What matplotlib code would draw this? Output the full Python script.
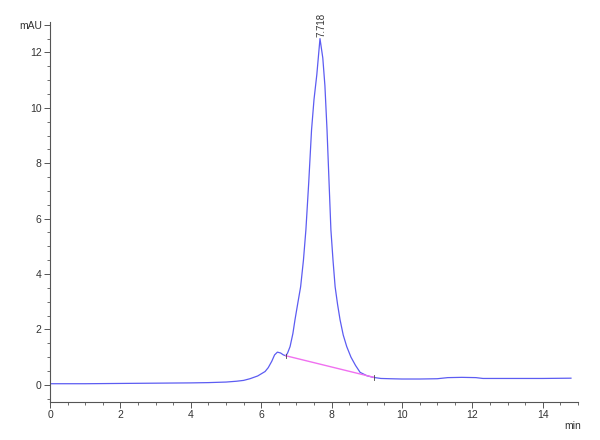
import matplotlib
matplotlib.use("Agg")
import matplotlib.pyplot as plt
from matplotlib.ticker import MultipleLocator

plt.rcParams['font.family'] = ['Liberation Sans', 'DejaVu Sans']

# Chromatogram trace (time in min, absorbance in mAU)
time_min = [0.0, 1.0, 2.0, 3.0, 4.0, 4.5, 5.0, 5.3, 5.5, 5.68, 5.9, 6.11, 6.2, 6.3,
            6.38, 6.46, 6.55, 6.63, 6.70, 6.75, 6.82, 6.9, 6.96, 7.04, 7.12, 7.2,
            7.27, 7.35, 7.43, 7.5, 7.58, 7.67, 7.75, 7.81, 7.87, 7.98, 8.04, 8.10, 8.17,
            8.24, 8.33, 8.43, 8.55, 8.68, 8.81, 9.0, 9.18, 9.4, 9.66, 10.0, 10.5,
            11.0, 11.3, 11.7, 12.1, 12.3, 13.0, 14.0, 14.8]
signal_mau = [0.04, 0.04, 0.05, 0.06, 0.07, 0.08, 0.10, 0.13, 0.16, 0.22, 0.32, 0.48,
              0.62, 0.85, 1.08, 1.18, 1.15, 1.08, 1.05, 1.15, 1.38, 1.85, 2.35, 2.95,
              3.54, 4.5, 5.6, 7.3, 9.2, 10.3, 11.2, 12.5, 11.8, 10.8, 9.2, 5.6, 4.5, 3.54,
              2.9, 2.35, 1.8, 1.38, 1.0, 0.7, 0.45, 0.33, 0.27, 0.23, 0.22, 0.21,
              0.21, 0.22, 0.26, 0.27, 0.26, 0.23, 0.23, 0.23, 0.24]

# Integration baseline
baseline_t = [6.70, 9.20]
baseline_y = [1.05, 0.27]

peak_rt = 7.718
peak_height = 12.5

xtick_vals = [0, 2, 4, 6, 8, 10, 12, 14]
ytick_vals = [0, 2, 4, 6, 8, 10, 12, 13]
ytick_labels = ['0', '2', '4', '6', '8', '10', '12', 'mAU']

fig = plt.figure(figsize=(6.0, 4.4), dpi=100)
ax = fig.add_axes([50/600, 38/440, 528/600, 380/440])

ax.plot(time_min, signal_mau, color='#5c5cf2', lw=0.9)
ax.plot(baseline_t, baseline_y, color='#f070f0', lw=1.0)
ax.plot([baseline_t[0]] * 2, [baseline_y[0] - 0.08, baseline_y[0] + 0.08], color='#444444', lw=0.6)
ax.plot([baseline_t[1]] * 2, [baseline_y[1] - 0.08, baseline_y[1] + 0.08], color='#444444', lw=0.6)

ax.text(peak_rt, peak_height + 0.05, f"{peak_rt:.3f}", rotation=90, ha='center', va='bottom',
        fontsize=7, color='#333333')

ax.set_xlim(0, 15.0)
ax.set_ylim(-0.62, 13.1)

ax.set_xticks(xtick_vals)
ax.xaxis.set_minor_locator(MultipleLocator(0.5))
ax.set_yticks(ytick_vals)
ax.set_yticklabels(ytick_labels)
ax.yaxis.set_minor_locator(MultipleLocator(0.5))

for s in ['top', 'right']:
    ax.spines[s].set_visible(False)
for s in ['left', 'bottom']:
    ax.spines[s].set_color('#555555')
    ax.spines[s].set_linewidth(0.8)

ax.tick_params(which='major', direction='out', length=4, width=0.7, color='#555555',
               labelsize=7.5, labelcolor='#333333', pad=2)
ax.tick_params(which='minor', direction='out', length=2.5, width=0.6, color='#555555')

ax.text(14.85, -1.3, 'min', ha='center', va='top', fontsize=7.5, color='#333333')

fig.savefig('out.png', dpi=100)
